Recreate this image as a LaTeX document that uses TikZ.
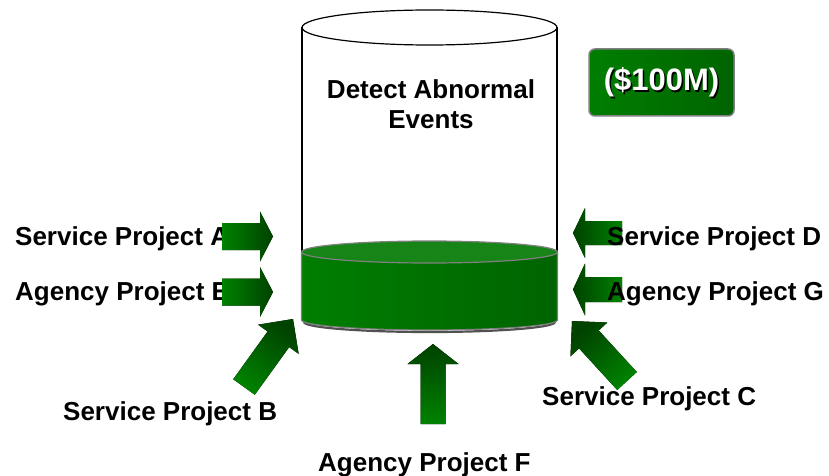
\documentclass[tikz,border=0pt]{standalone}
\usepackage{fontspec}
\setmainfont{Liberation Sans}
\usetikzlibrary{calc}

\definecolor{arrowdark}{RGB}{0,66,0}
\definecolor{arrowlight}{RGB}{0,130,0}
\definecolor{bandleft}{RGB}{0,126,0}
\definecolor{bandright}{RGB}{0,100,0}
\definecolor{bandtop}{RGB}{22,132,22}
\definecolor{rimgray}{RGB}{128,128,128}

% Block arrow from tail #1 to tip #2: shaft half-width #3, head half-width #4,
% head length #5, shading angle #6 (dark end at the tip).
\newcommand\blockarrow[6]{%
  \coordinate (hb) at ($(#2)!#5!(#1)$);
  \fill[top color=arrowdark, bottom color=arrowlight, shading angle=#6]
    ($(#1)!#3!90:(#2)$) -- ($(hb)!#3!90:(#2)$) -- ($(hb)!#4!90:(#2)$) -- (#2)
    -- ($(hb)!#4!-90:(#2)$) -- ($(hb)!#3!-90:(#2)$) -- ($(#1)!#3!-90:(#2)$) -- cycle;
}

\begin{document}
\begin{tikzpicture}[x=1pt,y=-1pt,
  lbl/.style={font=\bfseries\fontsize{26}{30}\selectfont, inner sep=0pt},
  title/.style={font=\bfseries\fontsize{26}{30}\selectfont, inner sep=0pt, align=center}]
\useasboundingbox (0,0) rectangle (829,476);

% ---- cylinder body ----
\draw[line width=1.2pt] (302,27.5) -- (302,252) (557,27.5) -- (557,252);
\draw[line width=1.2pt] (429.5,27.5) ellipse [x radius=127.5, y radius=17.5];
\node[title] (detect) at (431,104) {Detect Abnormal\\Events};

% ---- green band (y axis points down, so the lower rim runs 180 -> 0) ----
\draw[line width=2.2pt, black!80, opacity=0.85] (304,322) arc[start angle=180, end angle=0, x radius=125.5, y radius=10];
\path[left color=bandleft, right color=bandright, draw=rimgray, line width=1.2pt]
  (301.5,252) -- (301.5,320) arc[start angle=180, end angle=0, x radius=128, y radius=10] -- (557.5,252) -- cycle;
\path[fill=bandtop, draw=rimgray, line width=1.2pt] (429.5,252) ellipse [x radius=128, y radius=11];

% ---- budget box ----
\node[draw=rimgray, line width=1.5pt, rounded corners=6pt, left color=bandleft, right color=bandright,
      minimum width=145pt, minimum height=67pt] (budget) at (661.5,82.5) {};
\node[font=\bfseries\fontsize{31}{34}\selectfont, text=black] at ($(budget.center)+(1.6,1.6)$) {(\$100M)};
\node[font=\bfseries\fontsize{31}{34}\selectfont, text=white] (amount) at (budget.center) {(\$100M)};

% ---- left labels, arrows drawn over them ----
\node[lbl, anchor=base west] (spa) at (15,245) {Service Project A};
\node[lbl, anchor=base west] (ape) at (15,300) {Agency Project E};
\coordinate (aT) at (222,236.5); \coordinate (aH) at (273,236.5);
\coordinate (eT) at (222,292);   \coordinate (eH) at (273,292);
\blockarrow{aT}{aH}{13.5pt}{25pt}{13pt}{-90}
\blockarrow{eT}{eH}{13.5pt}{25pt}{13pt}{-90}

% ---- right arrows, labels drawn over them ----
\coordinate (dT) at (622,233);   \coordinate (dH) at (573,233);
\coordinate (gT) at (622,289.5); \coordinate (gH) at (573,289.5);
\blockarrow{dT}{dH}{12pt}{25pt}{12pt}{90}
\blockarrow{gT}{gH}{12.5pt}{26pt}{12pt}{90}
\node[lbl, anchor=base west] (spd) at (607,245) {Service Project D};
\node[lbl, anchor=base west] (apg) at (607,300) {Agency Project G};

% ---- arrows from below ----
\coordinate (bT) at (244,387); \coordinate (bH) at (293,319);
\coordinate (cT) at (627,381); \coordinate (cH) at (572,321);
\coordinate (fT) at (433,424); \coordinate (fH) at (433,344);
\blockarrow{bT}{bH}{13.3pt}{25pt}{25pt}{-36}
\blockarrow{cT}{cH}{13.3pt}{25pt}{25pt}{42}
\blockarrow{fT}{fH}{12.5pt}{25.5pt}{20pt}{0}

\node[lbl, anchor=base west] (spb) at (63,420) {Service Project B};
\node[lbl, anchor=base west] (apf) at (318,471) {Agency Project F};
\node[lbl, anchor=base west] (spc) at (542,405) {Service Project C};
\end{tikzpicture}
\end{document}
